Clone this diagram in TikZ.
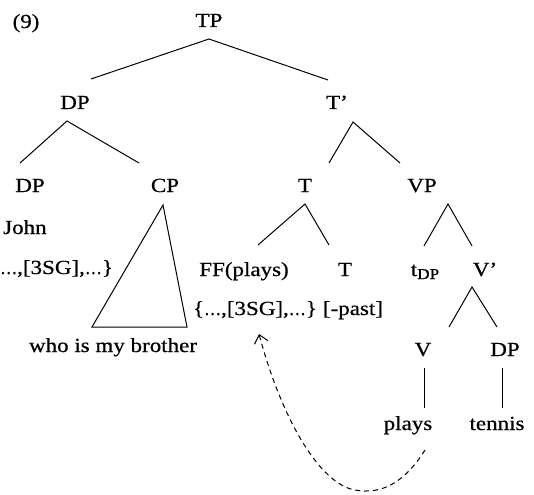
\documentclass[tikz,border=0pt]{standalone}
\usepackage{fontspec}
\usepackage{graphicx}
\setmainfont{Liberation Serif}[FakeStretch=1.15,FakeBold=0.6]
\usetikzlibrary{arrows.meta}
\newcommand\shortdots{\scalebox{0.74}[1]{…}}
\tikzset{
  lbl/.style={font=\fontsize{20}{24}\selectfont, inner sep=0pt, anchor=base},
  branch/.style={line width=1pt},
  movearrow/.style={line width=1pt, dash pattern=on 5pt off 4pt, -{Straight Barb[length=8pt,width=14pt,line width=1pt]}}
}
\begin{document}
\begin{tikzpicture}[x=1pt,y=-1pt]
\useasboundingbox (0,0) rectangle (534,494);
% labels
\node[lbl] (n9) at (26,28) {(9)};
\node[lbl] (TP) at (209,27) {TP};
\node[lbl] (DPa) at (75,109) {DP};
\node[lbl] (Tbar) at (337,109) {T’};
\node[lbl] (DPb) at (30,192) {DP};
\node[lbl] (CP) at (165,192) {CP};
\node[lbl] (Ta) at (305,192) {T};
\node[lbl] (VP) at (422,192) {VP};
\node[lbl,anchor=base west] (John) at (3,234) {John};
\node[lbl,anchor=base west] (featL) at (0,274) {\shortdots,[3SG],\shortdots\}};
\node[lbl] (FF) at (244,276) {FF(plays)};
\node[lbl] (Tb) at (345,276) {T};
\node[lbl] (tDP) at (425,276) {t\raisebox{-3pt}{\fontsize{15}{18}\selectfont DP}};
\node[lbl] (Vbar) at (485,276) {V’};
\node[lbl] (feat) at (255,315) {\{\shortdots,[3SG],\shortdots\}};
\node[lbl] (past) at (353,315) {[-past]};
\node[lbl] (who) at (113,352) {who is my brother};
\node[lbl] (V) at (423,356) {V};
\node[lbl] (DPc) at (505,356) {DP};
\node[lbl] (plays) at (408,430) {plays};
\node[lbl] (tennis) at (497,430) {tennis};
% branches
\draw[branch] ([shift={(16,-30)}]DPa.base) -- ([shift={(0,12)}]TP.base) -- ([shift={(-9,-29)}]Tbar.base);
\draw[branch] ([shift={(-10,-29)}]DPb.base) -- ([shift={(-8,12)}]DPa.base) -- ([shift={(-26,-29)}]CP.base);
\draw[branch] ([shift={(24,-29)}]Ta.base) -- ([shift={(16,13)}]Tbar.base) -- ([shift={(-22,-29)}]VP.base);
\draw[branch] ([shift={(14,-31)}]FF.base) -- ([shift={(0,12)}]Ta.base) -- ([shift={(-16,-31)}]Tb.base);
\draw[branch] ([shift={(-1,-30)}]tDP.base) -- ([shift={(26,12)}]VP.base) -- ([shift={(-13,-30)}]Vbar.base);
\draw[branch] ([shift={(26,-29)}]V.base) -- ([shift={(-13,11)}]Vbar.base) -- ([shift={(-8,-29)}]DPc.base);
\draw[branch] ([shift={(1,12)}]V.base) -- ([shift={(16,-22)}]plays.base);
\draw[branch] ([shift={(-3,12)}]DPc.base) -- ([shift={(5,-22)}]tennis.base);
% triangle
\draw[branch] ([shift={(-2,13)}]CP.base) -- ([shift={(-21,-25)}]who.base) -- ([shift={(74,-25)}]who.base) -- cycle;
% movement arrow
\draw[movearrow] ([shift={(17,20)}]plays.base) .. controls (405,482) and (382,495) .. (355,490)
  .. controls (320,484) and (282,420) .. ([shift={(4,19)}]feat.base);
\end{tikzpicture}
\end{document}
